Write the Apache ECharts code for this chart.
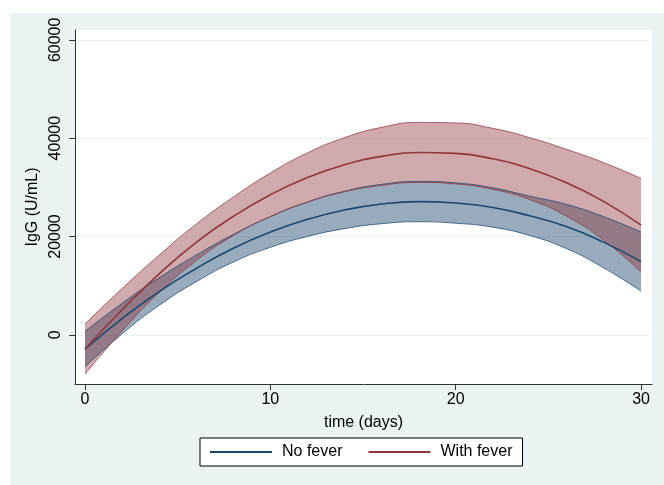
<!DOCTYPE html>
<html>
<head>
<meta charset="utf-8">
<script src="https://cdn.jsdelivr.net/npm/echarts@6/dist/echarts.min.js"></script>
<style>
    body { margin: 0; background: #fff; }
    .bg { position: absolute; left: 10px; top: 13px; width: 654px; height: 472px; background: #EAF2F3; }
    .echarts { position: absolute; left: 0; top: 0; width: 664px; height: 485px; }
</style>
</head>
<body>
<div class="bg"></div>
<div class="echarts"></div>
<script>
// 数据
var days = [0, 2, 4, 6, 8, 10, 12, 14, 16, 18, 20, 22, 24, 26, 28, 30];
var noFever   = [-2900, 3300, 8800, 13500, 17600, 20900, 23500, 25400, 26600, 27100, 26800, 25900, 24200, 22000, 18800, 14900];
var noFeverHi = [700, 6400, 11600, 16200, 20400, 24000, 27000, 29200, 30600, 31200, 30900, 29900, 28200, 26500, 24000, 20900];
var noFeverLo = [-6500, 200, 6000, 10800, 14800, 17800, 20000, 21600, 22600, 23000, 22700, 21900, 20200, 17500, 13600, 8900];
var withFever   = [-2900, 5100, 12400, 18800, 24100, 28500, 32000, 34600, 36300, 37100, 36900, 35800, 33800, 30900, 27100, 22300];
var withFeverHi = [2200, 9400, 16200, 22500, 28000, 32900, 37000, 40100, 42200, 43200, 43100, 42000, 40100, 37700, 35000, 31800];
var withFeverLo = [-8000, 800, 8600, 15100, 20200, 24100, 27000, 29100, 30400, 31000, 30700, 29600, 27500, 24100, 19200, 12800];
var xTicks = [0, 10, 20, 30];
var yTicks = [0, 20000, 40000, 60000];

var navy = '#1A476F';
var maroon = '#90353B';
var font = 'Arial, "Liberation Sans", sans-serif';
var yMin = -10000, yMax = 62000;

function pairs(ys) {
    return days.map(function(d, i) { return [d, ys[i]]; });
}

// 置信带: 下界 + 差值堆叠 (画在第二个 grid 的类目轴上, 0 和 30 与主轴对齐)
function band(name, lo, hi, color, fill) {
    var gap = hi.map(function(v, i) { return v - lo[i]; });
    var common = {
        type: 'line',
        xAxisIndex: 1,
        yAxisIndex: 1,
        stack: name,
        stackStrategy: 'all',
        smooth: true,
        symbol: 'none',
        silent: true,
        lineStyle: { color: color, width: 1, opacity: 0.75 }
    };
    return [
        Object.assign({ name: name + ' lo', data: lo }, common),
        Object.assign({ name: name + ' hi', data: gap, areaStyle: { color: fill, opacity: 1 } }, common)
    ];
}

function myecharts() {
    var myChart = echarts.init(document.querySelector('.echarts'));
    var option = {
        animation: false,
        textStyle: { fontFamily: font },
        grid: [{
            left: 75,
            top: 30,
            right: 12,
            bottom: 101,
            show: true,
            backgroundColor: '#fff',
            borderWidth: 0
        }, {
            left: 85,
            top: 30,
            right: 23,
            bottom: 101
        }],
        legend: {
            data: ['No fever', 'With fever'],
            left: 200,
            top: 438,
            icon: 'rect',
            itemWidth: 62,
            itemHeight: 2,
            itemGap: 26,
            padding: [6, 10],
            borderColor: '#000',
            borderWidth: 1,
            backgroundColor: '#fff',
            textStyle: { fontSize: 16, color: '#000', fontFamily: font, padding: [0, 0, 0, 5] }
        },
        xAxis: [{
            type: 'value',
            min: -0.54,
            max: 30.59,
            name: 'time (days)',
            nameLocation: 'middle',
            nameGap: 31,
            nameTextStyle: { fontSize: 16, color: '#000', fontFamily: font },
            axisLine: { show: true, onZero: false, lineStyle: { color: '#333', width: 1 } },
            axisTick: { show: true, length: 6, customValues: xTicks, lineStyle: { color: '#333' } },
            axisLabel: { customValues: xTicks, fontSize: 16, color: '#000', margin: 8, fontFamily: font },
            splitLine: { show: false }
        }, {
            type: 'category',
            gridIndex: 1,
            data: days,
            boundaryGap: false,
            show: false
        }],
        yAxis: [{
            type: 'value',
            min: yMin,
            max: yMax,
            name: 'IgG (U/mL)',
            nameLocation: 'middle',
            nameGap: 27,
            nameRotate: 90,
            nameTextStyle: { fontSize: 16, color: '#000', fontFamily: font },
            axisLine: { show: true, onZero: false, lineStyle: { color: '#333', width: 1 } },
            axisTick: { show: true, length: 6, customValues: yTicks, lineStyle: { color: '#333' } },
            axisLabel: {
                customValues: yTicks, rotate: 90, fontSize: 16, color: '#000', margin: 11, fontFamily: font,
                formatter: function(v) { return String(v); }
            },
            splitLine: { show: true, lineStyle: { color: '#EAF2F3', width: 1 } }
        }, {
            type: 'value',
            gridIndex: 1,
            min: yMin,
            max: yMax,
            show: false,
            splitLine: { show: false }
        }],
        series: [].concat(
            band('nf', noFeverLo, noFeverHi, navy, 'rgba(26,71,111,0.45)'),
            band('wf', withFeverLo, withFeverHi, maroon, 'rgba(144,53,59,0.42)'),
            [{
                name: 'No fever',
                type: 'line',
                data: pairs(noFever),
                smooth: true,
                symbol: 'none',
                color: navy,
                lineStyle: { color: navy, width: 1.6 }
            }, {
                name: 'With fever',
                type: 'line',
                data: pairs(withFever),
                smooth: true,
                symbol: 'none',
                color: maroon,
                lineStyle: { color: maroon, width: 1.6 }
            }]
        )
    };
    myChart.setOption(option);
}
myecharts();
</script>
</body>
</html>
